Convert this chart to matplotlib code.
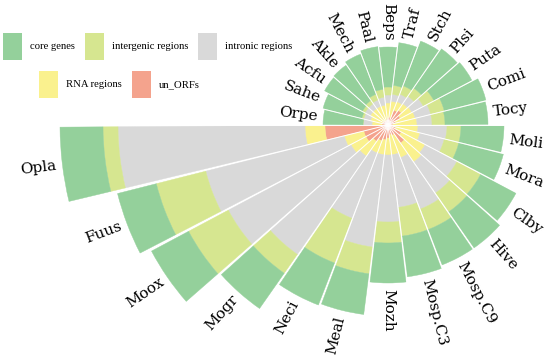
import numpy as np
import matplotlib.pyplot as plt
from matplotlib.patches import Patch

# species, going round from the left (Opla) downwards
species = ['Opla', 'Fuus', 'Moox', 'Mogr', 'Neci', 'Meal', 'Mozh', 'Mosp.C3',
           'Mosp.C9', 'Hive', 'Clby', 'Mora', 'Moli', 'Tocy', 'Comi', 'Puta',
           'Plsi', 'Stch', 'Traf', 'Beps', 'Paal', 'Mech', 'Akle', 'Acfu',
           'Sahe', 'Orpe']

# stacked segments, inner to outer
un_orfs = [63, 25, 25, 20, 17, 15, 13, 10, 11, 22, 15, 8, 5, 5, 8, 14,
           18, 16, 8, 7, 6, 5, 5, 6, 6, 6]
rna = [20, 20, 17, 18, 13, 15, 17, 20, 24, 23, 27, 25, 25, 24, 20, 13,
       8, 9, 16, 15, 14, 15, 15, 14, 12, 10]
intronic = [187, 143, 139, 120, 70, 93, 67, 53, 55, 38, 36, 25, 29, 15, 16, 13,
            9, 8, 7, 8, 8, 7, 6, 6, 7, 9]
intergenic = [15, 51, 45, 23, 48, 27, 21, 29, 22, 23, 27, 15, 14, 13, 14, 12,
              10, 9, 9, 8, 8, 6, 4, 3, 2, 0]
core = [43, 40, 42, 43, 45, 41, 40, 41, 38, 44, 40, 46, 43, 43, 43, 43,
        48, 48, 43, 40, 43, 43, 43, 43, 40, 40]

layers = [(un_orfs, '#F4A38D', 'un_ORFs'),
          (rna, '#FAF18E', 'RNA regions'),
          (intronic, '#D9D9D9', 'intronic regions'),
          (intergenic, '#D6E690', 'intergenic regions'),
          (core, '#94D09B', 'core genes')]

W, H = 550, 358
cx, cy = 388, 125  # centre of the wheel in pixels
R = 340

n = len(species)
step = 2 * np.pi / n
gap = 0.013  # angular gap between bars (rad)
theta = np.pi + step * (np.arange(n) + 0.5)

fig = plt.figure(figsize=(W / 100, H / 100), dpi=100)
ax = fig.add_axes([(cx - R) / W, (H - cy - R) / H, 2 * R / W, 2 * R / H],
                  projection='polar')
ax.set_ylim(0, R)
ax.set_axis_off()

bottom = np.zeros(n)
for vals, col, lab in layers:
    vals = np.array(vals, dtype=float)
    ax.bar(theta, vals, width=step - gap, bottom=bottom, color=col,
           edgecolor=col, linewidth=0.3, align='center')
    bottom += vals
total = bottom

# thin white lines so the gaps stay visible near the centre
for k in range(n):
    th = np.pi + step * k
    r_end = max(total[k], total[k - 1]) + 3
    ax.plot([th, th], [0, r_end], color='white', lw=0.7,
            solid_capstyle='butt', zorder=3)

# labels at the end of each bar
for i, name in enumerate(species):
    deg = round(np.degrees(theta[i]), 3) % 360
    if 89.9 < deg < 269.9:
        rot, ha = deg - 180, 'right'
    else:
        rot, ha = (deg if deg < 180 else deg - 360), 'left'
    ax.text(theta[i], total[i] + 6, name, rotation=rot, rotation_mode='anchor',
            ha=ha, va='center', fontsize=11, family='DejaVu Serif', zorder=4)

# legend in two rows
handles = [Patch(facecolor=c, edgecolor='none') for _, c, _ in layers]
labels = [l for _, _, l in layers]
order1 = [4, 3, 2]
order2 = [1, 0]
kw = dict(frameon=False, handlelength=1.8, handleheight=3.5,
          handletextpad=0.7, columnspacing=0.95, borderpad=0, borderaxespad=0,
          prop={'family': 'Liberation Serif', 'size': 7.7})
fig.legend([handles[j] for j in order1], [labels[j] for j in order1], ncol=3,
           loc='upper left', bbox_to_anchor=(3 / W, 1 - 33 / H), **kw)
fig.legend([handles[j] for j in order2], [labels[j] for j in order2], ncol=2,
           loc='upper left', bbox_to_anchor=(39 / W, 1 - 71 / H), **kw)

fig.savefig('out.png', dpi=100)
